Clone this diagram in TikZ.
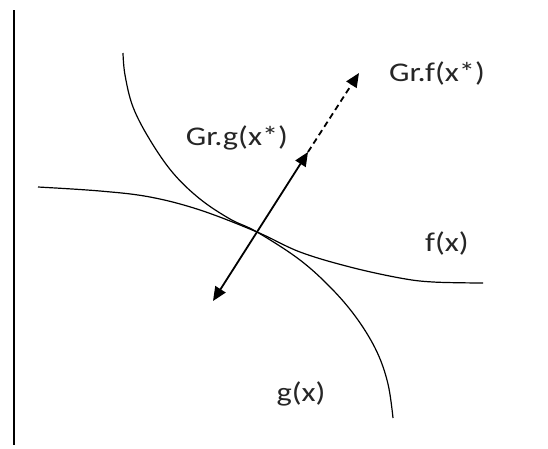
\documentclass[tikz,border=0pt]{standalone}
\usepackage{fontspec}
\setmainfont{Carlito}
\newfontfamily\lblfont[FakeStretch=1.2]{Carlito}
\usetikzlibrary{arrows.meta}

\begin{document}
\begin{tikzpicture}[
    x=1pt, y=-1pt,
    curve/.style={line width=1.2pt},
    axis/.style={line width=1.8pt},
    grad/.style={-{Triangle[length=14pt, width=12pt]}, line width=1.8pt},
    gradboth/.style={{Triangle[length=14pt, width=12pt]}-{Triangle[length=14pt, width=12pt]}, line width=1.8pt},
    lbl/.style={inner sep=0pt, text=black!85, font=\lblfont\fontsize{27}{32}\selectfont}
]
    \useasboundingbox (0,0) rectangle (548,448);

    % Axis
    \coordinate (axtop) at (14,10);
    \coordinate (axbot) at (14,445);
    \draw[axis] (axtop) -- (axbot);

    % Curves
    \draw[curve] plot[smooth, tension=0.6] coordinates {(123,53) (125,75) (133,107) (150,140) (173,173) (200,199) (230,219) (257,232) (300,260) (333,290) (358,320) (377,352) (388,384) (393,418)};
    \draw[curve] plot[smooth, tension=0.6] coordinates {(38,187) (100,191) (150,197) (200,210) (257,232) (300,252) (350,267) (400,278) (433,282) (483,283)};

    % Touching point and gradients
    \coordinate (touch) at (257,232);
    \coordinate (gtip) at (308,152);
    \coordinate (ftip) at (359,73);
    \coordinate (low) at (213,301);
    \draw[gradboth] (low) -- (gtip);
    \draw[grad, dash pattern=on 6pt off 4pt] (gtip) -- (ftip);

    % Labels
    \node[lbl] (gradf) at (437,73) {Gr.f(x*)};
    \node[lbl] (gradg) at (237,138) {Gr.g(x*)};
    \node[lbl] (flabel) at (447,243) {f(x)};
    \node[lbl] (glabel) at (301,394) {g(x)};
\end{tikzpicture}
\end{document}
